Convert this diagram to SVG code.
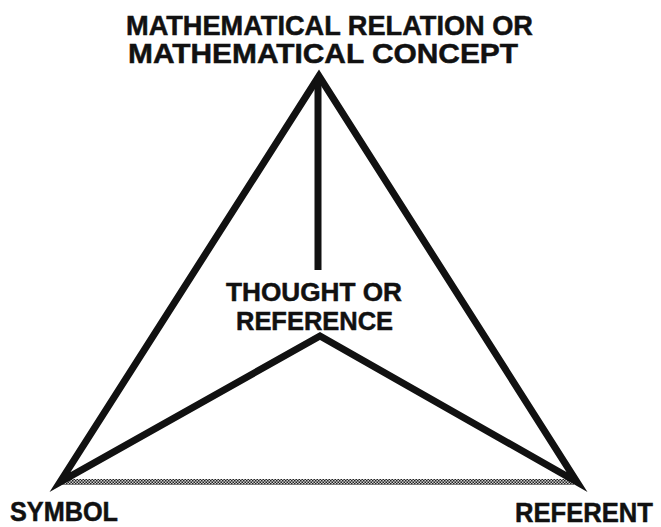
<svg xmlns="http://www.w3.org/2000/svg" width="661" height="527" viewBox="0 0 661 527">
<style>
  text { font-family: "Liberation Sans", Arial, sans-serif; font-weight: bold; fill: #111; stroke: #111; stroke-width: 0.5; }
  .edge { fill: none; stroke: #111; stroke-width: 7; stroke-linejoin: miter; stroke-miterlimit: 12; }
</style>
<defs>
  <pattern id="hatch" width="3" height="3" patternUnits="userSpaceOnUse">
    <rect width="3" height="3" fill="#ccc"/>
    <rect width="1.5" height="1.5" fill="#222"/>
    <rect x="1.5" y="1.5" width="1.5" height="1.5" fill="#222"/>
  </pattern>
</defs>
<rect width="661" height="527" fill="#fff"/>
<g id="connectors">
  <rect x="62" y="479" width="512" height="6" fill="url(#hatch)"/>
  <path class="edge" d="M319,76 L60,482 L320,336 L577,482 Z"/>
  <line class="edge" x1="318" y1="80" x2="318" y2="270"/>
</g>
<g id="concept">
  <text x="329.5" y="35" font-size="28" text-anchor="middle" textLength="407" lengthAdjust="spacingAndGlyphs">MATHEMATICAL RELATION OR</text>
  <text x="323" y="63" font-size="28" text-anchor="middle" textLength="390" lengthAdjust="spacingAndGlyphs">MATHEMATICAL CONCEPT</text>
</g>
<g id="thought">
  <text x="314" y="301" font-size="26.5" text-anchor="middle" textLength="176" lengthAdjust="spacingAndGlyphs">THOUGHT OR</text>
  <text x="314.5" y="330" font-size="26.5" text-anchor="middle" textLength="157" lengthAdjust="spacingAndGlyphs">REFERENCE</text>
</g>
<g id="symbol">
  <text x="10" y="521" font-size="27" textLength="108" lengthAdjust="spacingAndGlyphs">SYMBOL</text>
</g>
<g id="referent">
  <text x="515" y="522" font-size="27" textLength="138" lengthAdjust="spacingAndGlyphs">REFERENT</text>
</g>
</svg>
